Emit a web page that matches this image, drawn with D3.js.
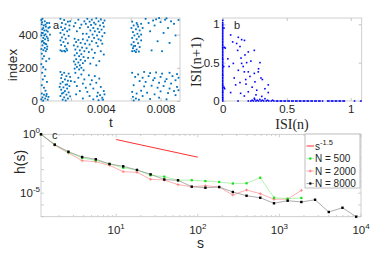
<!DOCTYPE html>
<html>
<head>
<meta charset="utf-8">
<script src="https://cdn.jsdelivr.net/npm/d3@7"></script>
<style>
body { margin: 0; background: #fff; }
text { font-family: "Liberation Sans", Arial, sans-serif; fill: #262626; }
.serif { font-family: "Liberation Serif", "Times New Roman", serif; }
</style>
</head>
<body>
<div id="vis"></div>
<script>
// ---- panel a: raster, [t (ms), neuron index] ----
var burst1 = [[0.02,488],[0.1,495],[0.25,480],[0.4,470],[0.05,462],[0.18,455],[0.33,448],[0.5,440],[0.08,432],[0.22,425],
  [0.45,418],[0.12,410],[0.3,402],[0.02,395],[0.38,388],[0.15,380],[0.27,372],[0.48,365],[0.06,358],[0.2,350],
  [0.35,342],[0.1,335],[0.42,328],[0.25,320],[0.03,313],[0.16,306],[0.32,300],[0.55,470],[0.58,445],[0.07,475],
  [0.3,460],[0.15,440],[0.36,425],[0.05,410],[0.22,395],[0.45,378],[0.12,362],[0.28,345],[0.4,312],[0.6,400],
  [0.05,285],[0.2,270],[0.1,255],[0.35,240],[0.02,222],[0.15,205],[0.3,190],[0.08,170],[0.25,150],[0.12,130],
  [0.4,115],[0.05,95],[0.2,80],[0.55,255],[0.3,62],[0.05,45],[0.2,38],[0.35,30],[0.1,22],[0.28,15],
  [0.45,8],[0.15,3],[0.38,42],[0.5,25],[0.02,10]];
var burst2 = [[1.3,495],[1.55,488],[1.8,478],[1.4,470],[1.65,462],[1.9,455],[1.35,445],[1.6,438],[1.45,428],[1.75,420],
  [1.3,410],[1.55,400],[1.85,392],[1.4,383],[1.65,375],[1.3,365],[1.5,355],[1.8,348],[1.35,338],[1.6,330],
  [1.7,315],[1.3,305],[1.4,300],[1.55,302],[1.62,298],[1.75,305],[1.9,430],[1.95,480],
  [1.3,175],[1.55,170],[1.85,165],[1.4,158],[1.7,150],[1.95,145],[1.35,138],[1.6,130],[1.8,122],[1.45,115],
  [1.3,105],[1.65,98],[1.9,90],[1.5,82],[1.75,75],[1.35,68],[1.6,60],[1.85,52],[1.4,45],[1.7,38],
  [1.3,30],[1.55,22],[1.8,15],[1.45,8],[1.65,3],[1.95,28],[1.25,85],[2.0,120],[1.5,50],[1.75,100]];
var burst3 = [[3.1,495],[3.4,490],[3.7,498],[4.0,492],[4.25,485],[3.25,478],[3.55,472],[3.85,480],[4.15,470],[3.0,465],
  [3.35,458],[3.65,462],[3.95,455],[4.2,448],[3.15,445],[3.5,440],[3.8,435],[4.05,430],[3.3,425],[3.6,420],
  [3.9,415],[4.25,410],[3.05,405],[3.45,400],[3.75,395],[4.1,390],[3.2,385],[3.55,380],[3.85,372],[4.0,365],
  [3.4,360],[3.7,350],[2.9,480],[2.7,460],[2.5,490],[2.3,470],[2.6,440],[2.4,420],[2.8,405],[2.2,450],
  [2.25,375],[2.5,368],[2.8,372],[3.1,365],[2.35,355],[2.65,350],[2.95,345],[3.25,340],[2.2,335],[2.45,328],
  [2.75,322],[3.05,318],[2.3,310],[2.6,305],[2.9,300],[3.2,295],[2.4,288],[2.7,282],[2.25,275],[2.55,270],
  [2.85,265],[3.15,260],[2.35,252],[2.65,248],[2.95,242],[2.2,238],[2.5,232],[2.8,228],[2.3,220],[2.6,215],
  [2.4,205],[2.7,200],[2.25,195],[2.55,190],[2.85,185],[3.4,310],[3.6,290],[3.8,330],[4.0,300],[3.5,260],
  [3.9,240],[4.2,280],[3.3,225],[3.7,215],[4.1,345],
  [2.3,170],[2.7,160],[3.2,155],[3.6,150],[2.5,140],[2.9,130],[3.4,125],[3.9,135],[2.25,115],[2.8,105],
  [3.3,100],[3.7,110],[2.4,90],[3.0,80],[3.5,75],[4.0,85],[2.6,60],[3.1,55],[3.8,50],[4.2,60],
  [2.35,40],[3.25,30],[3.75,28],[3.95,35],[4.1,20],[2.8,15],[3.5,10],[3.85,5],[4.15,8],[4.25,40]];
var burst4 = [[6.1,478],[6.4,470],[6.7,465],[6.2,455],[6.5,448],[6.05,440],[6.35,432],[6.6,425],[6.15,415],[6.45,405],
  [6.25,395],[6.55,388],[6.1,380],[6.4,372],[6.7,365],[6.2,355],[6.5,348],[6.05,340],[6.3,332],[6.6,325],
  [6.15,318],[6.4,310],[6.25,302],[6.55,298],[6.1,300],[6.35,295],[6.7,400],[6.8,440],[6.45,460],[6.2,330],
  [7.0,495],[7.5,485],[7.9,500],[8.3,490],[8.7,480],[9.2,488],[7.2,470],[8.0,475],[8.9,465],[7.6,455],
  [8.5,440],[7.3,420],[8.2,410],[9.0,395],[7.8,360],[8.6,350],[7.4,305],[8.1,300],[8.4,498],[7.7,492],
  [6.1,170],[6.5,160],[6.9,175],[7.3,168],[7.7,172],[8.1,165],[8.6,170],[9.1,162],[6.3,145],[6.8,140],
  [7.2,150],[7.6,138],[8.0,145],[8.4,132],[8.8,150],[9.2,140],[6.6,120],[7.0,115],[7.5,125],[7.9,110],
  [8.3,118],[8.7,105],[9.0,125],[6.2,95],[6.9,88],[7.4,92],[7.8,80],[8.2,90],[8.6,75],[9.1,85],
  [6.1,55],[6.4,45],[6.7,62],[7.1,50],[7.6,40],[8.0,58],[8.5,48],[8.9,60],[9.2,65],[6.15,25],
  [6.35,15],[6.55,8],[6.2,3],[6.8,30],[7.3,12],[7.9,20],[8.4,10],[9.0,35]];

// ---- panel b: return map, [ISI(n), ISI(n+1)] ----
var isiZeroCol = [[0,0],[0,0.02],[0,0.04],[0,0.05],[0,0.07],[0,0.09],[0,0.11],[0,0.12],[0,0.14],[0,0.16],
  [0,0.18],[0,0.2],[0,0.21],[0,0.23],[0,0.25],[0,0.27],[0,0.29],[0,0.31],[0,0.33],[0,0.34],
  [0,0.36],[0,0.38],[0,0.4],[0,0.42],[0,0.44],[0,0.46],[0,0.48],[0,0.5],[0,0.52],[0,0.54],
  [0,0.55],[0,0.57],[0,0.59],[0,0.61],[0,0.63],[0,0.65],[0,0.67],[0,0.69],[0,0.7],[0,0.72],
  [0,0.74],[0,0.76],[0,0.78],[0,0.8],[0,0.82],[0,0.84],[0,0.86],[0,0.88],[0,0.9],[0,0.92],
  [0,0.94],[0,0.96],[0,0.98],[0,1.0],[0,1.02],[0,1.05],
  [0.012,0.7],[0.02,0.69],[0.01,0.18],[0.015,0.16],[0.008,0.45],[0.01,0.95]];
var isiZeroRow = [[0.12,0],[0.2,0],[0.22,0],[0.23,0.01],[0.24,0],[0.25,0.02],[0.26,0],[0.27,0.01],[0.28,0],[0.29,0.02],
  [0.3,0],[0.31,0.01],[0.32,0],[0.33,0.03],[0.34,0],[0.35,0.01],[0.36,0],[0.38,0],[0.39,0.01],[0.4,0],
  [0.42,0],[0.43,0],[0.45,0],[0.46,0],[0.48,0],[0.49,0],[0.51,0],[0.52,0],[0.54,0],[0.55,0],
  [0.57,0],[0.58,0],[0.6,0],[0.61,0],[0.63,0],[0.64,0],[0.66,0],[0.67,0],[0.69,0],[0.7,0],
  [0.72,0],[0.73,0],[0.75,0],[0.76,0],[0.78,0],[0.82,0],[0.83,0],[0.85,0],[0.86,0],[0.88,0],
  [0.89,0],[0.91,0],[0.92,0],[0.94,0],[0.95,0],[1.03,0],[1.08,0]];
var isiScatter = [[0.062,0.86],[0.122,0.83],[0.078,0.77],[0.109,0.75],[0.148,0.8],[0.135,0.71],[0.117,0.66],[0.174,0.6],
  [0.143,0.56],[0.247,0.66],[0.083,0.49],[0.148,0.49],[0.187,0.5],[0.291,0.5],[0.122,0.4],[0.169,0.38],
  [0.2,0.38],[0.247,0.36],[0.278,0.38],[0.213,0.32],[0.299,0.3],[0.135,0.24],[0.182,0.22],[0.252,0.25],
  [0.356,0.21],[0.101,0.21],[0.2,0.12],[0.266,0.14],[0.356,0.11],[0.062,0.11],[0.169,0.065],[0.305,0.06],
  [0.247,0.035],[0.17,0.79],[0.2,0.64],[0.22,0.52],[0.16,0.45],[0.28,0.42],[0.31,0.28],[0.23,0.18],
  [0.33,0.16],[0.09,0.3],[0.26,0.08],[0.04,0.55],[0.05,0.45],[0.18,0.28],[0.14,0.1]];

// ---- panel c: avalanche size distribution ----
var sBins = [1.2, 1.77, 2.6, 3.83, 5.63, 8.29, 12.2, 18.0, 26.4, 38.9, 57.3, 84.4,
  124, 183, 269, 396, 583, 859, 1263, 1859, 2737, 4030, 5930, 8730];
// log10 h(s)
var logH500 = [0,-0.88,-1.53,-2.01,-2.21,-2.52,-2.84,-3.03,-3.48,-3.6,-3.9,-3.9,-3.97,-4.05,-4.18,-4.16,-3.69,-5.39,-5.47,-5.41];
var logH2000 = [0,-0.93,-1.59,-2.24,-2.33,-2.63,-3.18,-3.23,-3.82,-3.88,-4.28,-4.45,-4.37,-4.48,-5.16,-4.73,-5.05,-5.52,-5.5,-4.76];
var logH8000 = [0,-0.88,-1.48,-1.93,-2.12,-2.52,-2.72,-3.03,-3.4,-3.84,-3.91,-4.45,-4.54,-4.48,-4.9,-5.22,-5.39,-5.86,-5.64,-5.75,-5.56,-6.6,-6.24,-7.0];
var refS = [10, 100], refH = [0.36, 0.0114];

var frameColor = "#c4c4c4";

var svg = d3.select("#vis").append("svg")
  .attr("width", 374).attr("height", 264);

function frame(x, y) {
  svg.append("rect")
    .attr("x", x.range()[0]).attr("y", y.range()[1])
    .attr("width", x.range()[1] - x.range()[0])
    .attr("height", y.range()[0] - y.range()[1])
    .attr("fill", "none").attr("stroke", frameColor).attr("stroke-width", 0.8);
}

function styleAxis(g) {
  g.select(".domain").remove();
  g.selectAll("line").attr("stroke", frameColor);
  g.attr("font-size", null).attr("font-family", null);
  g.selectAll("text").style("font-size", "11.5px").attr("fill", "#262626");
}

function linAxes(x, y, xt, yt, xfmt, yfmt) {
  var b = y.range()[0], t = y.range()[1], l = x.range()[0], r = x.range()[1];
  svg.append("g").attr("transform", "translate(0," + b + ")")
    .call(d3.axisBottom(x).tickValues(xt).tickSize(-3).tickPadding(4).tickFormat(xfmt)).call(styleAxis);
  svg.append("g").attr("transform", "translate(0," + t + ")")
    .call(d3.axisTop(x).tickValues(xt).tickSize(-3).tickFormat("")).call(styleAxis);
  svg.append("g").attr("transform", "translate(" + l + ",0)")
    .call(d3.axisLeft(y).tickValues(yt).tickSize(-3).tickPadding(3).tickFormat(yfmt)).call(styleAxis);
  svg.append("g").attr("transform", "translate(" + r + ",0)")
    .call(d3.axisRight(y).tickValues(yt).tickSize(-3).tickFormat("")).call(styleAxis);
}

// ---------- panel a ----------
var xA = d3.scaleLinear().domain([0, 9.3]).range([41, 180]);
var yA = d3.scaleLinear().domain([0, 500]).range([101, 18]);
frame(xA, yA);
linAxes(xA, yA, [0, 2, 4, 6, 8], [0, 200, 400],
  d => d % 4 ? "" : (d ? d3.format(".3f")(d / 1000) : "0"), d => d);

var spikes = burst1.concat(burst2, burst3, burst4);
svg.append("g").selectAll("rect").data(spikes).enter().append("rect")
  .attr("x", d => xA(d[0]) - 0.9).attr("y", d => yA(d[1]) - 0.9)
  .attr("width", 1.8).attr("height", 1.8).attr("fill", "#0072bd");

svg.append("text").attr("x", 53).attr("y", 29).style("font-size", "11px").text("a");
svg.append("text").attr("text-anchor", "middle")
  .attr("transform", "translate(17,65) rotate(-90)").style("font-size", "13.5px").text("index");
svg.append("text").attr("x", 111).attr("y", 127).attr("text-anchor", "middle")
  .style("font-size", "13.5px").text("t");

// ---------- panel b ----------
var xB = d3.scaleLinear().domain([0, 1.086]).range([222.7, 361.7]);
var yB = d3.scaleLinear().domain([0, 1.082]).range([101, 18]);
frame(xB, yB);
linAxes(xB, yB, [0, 0.5, 1], [0, 0.5, 1], d => d, d => d);

var isi = isiZeroCol.concat(isiZeroRow, isiScatter);
svg.append("g").selectAll("rect").data(isi).enter().append("rect")
  .attr("x", d => xB(d[0]) - 0.8).attr("y", d => yB(d[1]) - 0.8)
  .attr("width", 1.6).attr("height", 1.6).attr("fill", "#0000ff");

svg.append("text").attr("x", 234).attr("y", 29).style("font-size", "11px").text("b");
svg.append("text").attr("class", "serif").attr("text-anchor", "middle")
  .attr("transform", "translate(201,62) rotate(-90)").style("font-size", "14.5px").text("ISI(n+1)");
svg.append("text").attr("class", "serif").attr("x", 292).attr("y", 128.5).attr("text-anchor", "middle")
  .style("font-size", "14px").text("ISI(n)");

// ---------- panel c ----------
var xC = d3.scaleLog().domain([1.2, 10000]).range([41, 361]);
var yC = d3.scaleLog().domain([1e-7, 1]).range([216.7, 134.3]);
frame(xC, yC);

var ticksC = svg.append("g").attr("stroke", frameColor).attr("stroke-width", 0.8);
var xMinor = [];
[1, 10, 100, 1000].forEach(p => [2, 3, 4, 5, 6, 7, 8, 9].forEach(m => { if (m * p >= 1.2) xMinor.push(m * p); }));
var xMajor = [10, 100, 1000, 10000];
xMinor.forEach(v => {
  ticksC.append("line").attr("x1", xC(v)).attr("x2", xC(v)).attr("y1", 216.7).attr("y2", 215);
  ticksC.append("line").attr("x1", xC(v)).attr("x2", xC(v)).attr("y1", 134.3).attr("y2", 136);
});
xMajor.forEach(v => {
  ticksC.append("line").attr("x1", xC(v)).attr("x2", xC(v)).attr("y1", 216.7).attr("y2", 213.7);
  ticksC.append("line").attr("x1", xC(v)).attr("x2", xC(v)).attr("y1", 134.3).attr("y2", 137.3);
});
var yDec = [1e-7, 1e-6, 1e-5, 1e-4, 1e-3, 1e-2, 1e-1, 1];
yDec.forEach(v => {
  ticksC.append("line").attr("x1", 41).attr("x2", 44).attr("y1", yC(v)).attr("y2", yC(v));
  ticksC.append("line").attr("x1", 361).attr("x2", 358).attr("y1", yC(v)).attr("y2", yC(v));
});

function powLabel(x, y, anchor, exp) {
  var t = svg.append("text").attr("x", x).attr("y", y).attr("text-anchor", anchor).style("font-size", "11.5px");
  t.append("tspan").text("10");
  t.append("tspan").attr("dy", -5).style("font-size", "8px").text(exp);
}
xMajor.forEach((v, i) => powLabel(xC(v), 233.5, "middle", String(i + 1)));
powLabel(40, yC(1) + 4, "end", "0");
powLabel(40, yC(1e-5) + 4, "end", "-5");

var lineC = d3.line().x(d => xC(d[0])).y(d => yC(d[1]));
function seriesData(logs) { return logs.map((v, i) => [sBins[i], Math.pow(10, v)]); }

var d500 = seriesData(logH500), d2000 = seriesData(logH2000), d8000 = seriesData(logH8000);

svg.append("path").datum(d2000).attr("d", lineC).attr("fill", "none")
  .attr("stroke", "#ff9a9a").attr("stroke-width", 0.8);
svg.append("path").datum(d500).attr("d", lineC).attr("fill", "none")
  .attr("stroke", "#9cf09c").attr("stroke-width", 0.8);
svg.append("path").datum(d8000).attr("d", lineC).attr("fill", "none")
  .attr("stroke", "#8a8a8a").attr("stroke-width", 0.7);

svg.append("g").selectAll("path").data(d2000).enter().append("path")
  .attr("d", d => "M" + (xC(d[0]) - 1.5) + "," + yC(d[1]) + "h3M" + xC(d[0]) + "," + (yC(d[1]) - 1.5) + "v3")
  .attr("stroke", "#ff7070").attr("stroke-width", 0.7);
svg.append("g").selectAll("rect").data(d500).enter().append("rect")
  .attr("x", d => xC(d[0]) - 1.1).attr("y", d => yC(d[1]) - 1.1)
  .attr("width", 2.2).attr("height", 2.2).attr("fill", "#10e010");
svg.append("g").selectAll("rect").data(d8000).enter().append("rect")
  .attr("x", d => xC(d[0]) - 1.2).attr("y", d => yC(d[1]) - 1.2)
  .attr("width", 2.4).attr("height", 2.4).attr("fill", "#000");

svg.append("path").datum(refS.map((s, i) => [s, refH[i]])).attr("d", lineC)
  .attr("fill", "none").attr("stroke", "#ff3030").attr("stroke-width", 1);

svg.append("text").attr("x", 52).attr("y", 139).style("font-size", "11px").text("c");
svg.append("text").attr("text-anchor", "middle")
  .attr("transform", "translate(25,162) rotate(-90)").style("font-size", "14px").text("h(s)");
svg.append("text").attr("x", 200.5).attr("y", 248).attr("text-anchor", "middle")
  .style("font-size", "14px").text("s");

// legend
var legend = svg.append("g");
legend.append("rect").attr("x", 305).attr("y", 134).attr("width", 55).attr("height", 54)
  .attr("fill", "#fff").attr("stroke", "#b0b0b0").attr("stroke-width", 0.8);
var rows = [
  { label: "s", sup: "-1.5", color: "#ff3030", mark: "none" },
  { label: "N = 500", color: "#9cf09c", mark: "#10e010" },
  { label: "N = 2000", color: "#ff9a9a", mark: "plus" },
  { label: "N = 8000", color: "#8a8a8a", mark: "#000" }
];
rows.forEach((r, i) => {
  var cy = 146 + i * 12.5;
  legend.append("line").attr("x1", 306.5).attr("x2", 314).attr("y1", cy).attr("y2", cy)
    .attr("stroke", r.color).attr("stroke-width", i === 0 ? 1 : 0.8);
  if (r.mark === "plus") {
    legend.append("path").attr("d", "M" + 308.8 + "," + cy + "h3M" + 310.3 + "," + (cy - 1.5) + "v3")
      .attr("stroke", "#ff7070").attr("stroke-width", 0.7);
  } else if (r.mark !== "none") {
    legend.append("rect").attr("x", 309.2).attr("y", cy - 1.1).attr("width", 2.2).attr("height", 2.2).attr("fill", r.mark);
  }
  var t = legend.append("text").attr("x", 315).attr("y", cy + 3.6).style("font-size", "10px");
  t.append("tspan").text(r.label);
  if (r.sup) t.append("tspan").attr("dy", -5).style("font-size", "7.5px").text(r.sup);
});
</script>
</body>
</html>
